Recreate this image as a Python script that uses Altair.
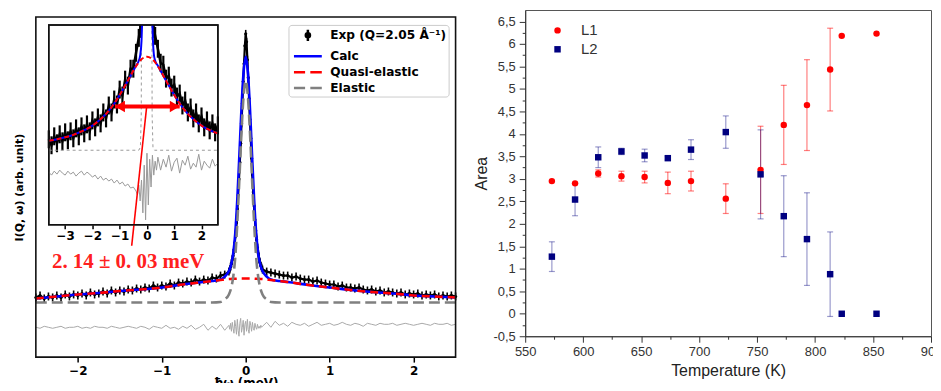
import altair as alt
import pandas as pd

# ============ LEFT PANEL: QENS spectrum (intensity in arbitrary units) ============
W_TAIL_L = [-2.5,-2.45,-2.4,-2.35,-2.3,-2.25,-2.2,-2.15,-2.1,-2.05,-2.0,-1.95,-1.9,-1.85,-1.8,-1.75,-1.7,-1.65,-1.6,-1.55,
            -1.5,-1.45,-1.4,-1.35,-1.3,-1.25,-1.2,-1.15,-1.1,-1.05,-1.0,-0.95,-0.9,-0.85,-0.8,-0.75,-0.7,-0.65,-0.6,-0.55,
            -0.5,-0.45,-0.4,-0.35,-0.3,-0.25]
W_CORE = [-0.2,-0.19,-0.18,-0.17,-0.16,-0.15,-0.14,-0.13,-0.12,-0.11,-0.1,-0.09,-0.08,-0.07,-0.06,-0.05,-0.04,-0.03,-0.02,-0.01,
          0.0,0.01,0.02,0.03,0.04,0.05,0.06,0.07,0.08,0.09,0.1,0.11,0.12,0.13,0.14,0.15,0.16,0.17,0.18,0.19,0.2]
W_TAIL_R = [0.25,0.3,0.35,0.4,0.45,0.5,0.55,0.6,0.65,0.7,0.75,0.8,0.85,0.9,0.95,1.0,1.05,1.1,1.15,1.2,
            1.25,1.3,1.35,1.4,1.45,1.5,1.55,1.6,1.65,1.7,1.75,1.8,1.85,1.9,1.95,2.0,2.05,2.1,2.15,2.2,
            2.25,2.3,2.35,2.4,2.45,2.5]

EXP_TAIL_L = [5,7,4,6,5,7,5,8,6,8,7,9,7,10,8,9,11,9,12,10,12,11,13,12,14,13,15,14,17,15,
              17,16,19,17,20,19,21,20,23,21,23,22,25,24,27,28]
EXP_CORE = [31,33,36,39,43,47,53,60,69,80,94,108,124,141,160,180,200,222,240,258,
            270,262,244,226,205,184,165,145,128,111,97,83,72,63,55,49,44,40,37,35,33]
EXP_TAIL_R = [31,30,29,28,27,27,25,26,24,23,23,21,22,20,19,18,18,16,17,15,
              15,14,15,13,12,13,11,12,10,11,10,9,10,8,9,8,9,7,8,7,8,6,7,6,7,6]
EXP_ERR = 4

RES_TAIL_L = [-25,-26,-24,-25,-26,-25,-24,-26,-25,-25,-24,-26,-25,-26,-24,-25,-25,-26,-24,-25,
              -26,-25,-24,-25,-26,-24,-25,-27,-24,-25,-26,-23,-26,-25,-27,-24,-26,-23,-27,-25,
              -22,-28,-24,-27,-22,-28]
RES_CORE = [-23,-27,-21,-29,-20,-26,-31,-18,-24,-32,-17,-28,-34,-21,-16,-30,-25,-18,-33,-22,
            -19,-29,-17,-27,-31,-19,-23,-29,-20,-26,-28,-21,-25,-27,-22,-26,-24,-26,-23,-25,-24]
RES_TAIL_R = [-20,-25,-19,-23,-21,-24,-20,-22,-23,-21,-24,-22,-20,-23,-22,-21,-23,-22,-20,-22,
              -23,-21,-22,-24,-21,-22,-23,-21,-22,-22,-21,-23,-22,-21,-22,-23,-22,-21,-22,-23,
              -21,-22,-22,-21,-23,-22]

W_MODEL = [-2.5,-2.25,-2.0,-1.75,-1.5,-1.25,-1.0,-0.75,-0.5,-0.4,-0.3,-0.25,-0.2,-0.175,-0.15,-0.125,-0.1,-0.075,-0.05,-0.025,
           0.0,0.025,0.05,0.075,0.1,0.125,0.15,0.175,0.2,0.25,0.3,0.4,0.5,0.75,1.0,1.25,1.5,1.75,2.0,2.25,2.5]
CALC = [4,6,8,9.5,11.5,13,15,18,20.5,21.5,23,26,31.5,37.5,48.5,69,104,149,196,232,
        247,232,196,149,104,69,48.5,37.5,31.5,26,23,21.5,20.5,17.5,15,12.5,10.5,9,7,6,5]
QUASI = [4,6,8,9.5,11.5,13,15,18,20.5,21.5,22.5,23,23.5,23.6,23.7,23.8,23.9,24,24,24,
         24,24,24,24,23.9,23.8,23.7,23.6,23.5,23,22.5,21.5,20.5,17.5,15,12.5,10.5,9,7,6,5]
ELASTIC = [0,0,0,0,0,0,0,0,0,0,0.5,3,8,14,25,45,80,125,172,208,
           223,208,172,125,80,45,25,14,8,3,0.5,0,0,0,0,0,0,0,0,0,0]

X_DOMAIN = [-2.5, 2.5]
Y_DOMAIN = [-55, 294]
FRAME_TOP = 287

LEG_NAMES = ["Exp (Q=2.05 Å⁻¹)", "Calc", "Quasi-elastic", "Elastic"]
LEG_COLORS = ["#000000", "#0000ff", "#ff0000", "#808080"]
LEG_PATHS = ["M0,-0.8L0,0.8M-0.3,0A0.3,0.3,0,1,0,0.3,0A0.3,0.3,0,1,0,-0.3,0",
             "M-2,0L2,0",
             "M-2,0L-0.4,0M0.35,0L2,0",
             "M-2,0L-0.4,0M0.35,0L2,0"]

# ---- inset (zoomed view) ----
WI_EXP = [-3.6,-3.5,-3.4,-3.3,-3.2,-3.1,-3.0,-2.9,-2.8,-2.7,-2.6,-2.5,-2.4,-2.3,-2.2,-2.1,-2.0,-1.9,-1.8,-1.7,
          -1.6,-1.5,-1.4,-1.3,-1.2,-1.1,-1.0,-0.9,-0.8,-0.7,-0.6,-0.5,-0.4,-0.3,-0.25,0.0,0.25,0.3,
          0.4,0.5,0.6,0.7,0.8,0.9,1.0,1.1,1.2,1.3,1.4,1.5,1.6,1.7,1.8,1.9,2.0,2.1,2.2,2.3,2.4,2.5,2.6]
VI_EXP = [86,80,89,82,91,84,93,85,94,87,97,89,99,92,101,94,105,98,108,102,
          113,107,120,113,126,121,136,130,146,140,157,157,173,188,197,None,197,190,
          177,163,161,147,150,138,141,129,132,120,125,113,118,107,113,102,109,98,105,95,102,93,100]
EXP_ERR_I = 9

WI_QUASI = [-3.6,-3.3,-3.0,-2.7,-2.4,-2.1,-1.8,-1.5,-1.2,-1.0,-0.8,-0.6,-0.4,-0.2,0.0,
            0.2,0.4,0.6,0.8,1.0,1.2,1.5,1.8,2.1,2.4,2.6]
VI_QUASI = [84.5,86,88,90.5,94,98,104,111.5,122,130.5,140,150,159.5,166.5,169,
            166.5,159.5,150,140,130.5,122,111.5,104,98,94,92]
WI_CALC = [-3.6,-3.3,-3.0,-2.7,-2.4,-2.1,-1.8,-1.5,-1.2,-1.0,-0.8,-0.6,-0.4,-0.3,-0.25,-0.2,-0.18,0.0,
           0.2,0.22,0.25,0.3,0.4,0.6,0.8,1.0,1.2,1.5,1.8,2.1,2.4,2.6]
VI_CALC = [84.5,86,88,90.5,94,98,104,111.5,122,130.5,140,150,160,165,170,185,201,None,
           201,185,172,165,160,150,140,130.5,122,111.5,104,98,94,92]
WI_EL = [-3.6,-0.3,-0.24,-0.21,-0.2,0.0,0.18,0.19,0.22,0.28,2.6]
VI_EL = [75,75,78,110,201,None,201,110,78,75,75]
WI_RES = [-3.6,-3.5,-3.4,-3.3,-3.2,-3.1,-3.0,-2.9,-2.8,-2.7,-2.6,-2.5,-2.4,-2.3,-2.2,-2.1,-2.0,-1.9,-1.8,-1.7,
          -1.6,-1.5,-1.4,-1.3,-1.2,-1.1,-1.0,-0.9,-0.8,-0.7,-0.6,-0.5,-0.4,
          -0.35,-0.3,-0.25,-0.2,-0.15,-0.1,-0.05,0.0,0.05,0.1,0.15,0.2,0.25,0.3,0.35,
          0.4,0.5,0.6,0.7,0.8,0.9,1.0,1.1,1.2,1.3,1.4,1.5,1.6,1.7,1.8,1.9,2.0,2.1,2.2,2.3,2.4,2.5,2.6]
VI_RES = [53,50,54,51,55,52,50,54,51,53,49,52,54,50,53,51,48,50,46,49,
          45,47,44,46,42,45,41,43,39,41,37,38,34,
          30,40,24,45,12,60,5,72,20,66,38,70,50,64,55,
          68,55,66,58,70,54,63,67,52,65,60,69,56,62,58,71,55,64,60,57,66,59,62]
XI_DOMAIN = [-3.6, 2.6]
YI_DOMAIN = [0, 201]
FWHM_ENDS = [-1.17, 1.2]
FWHM_LEVEL = 119
POINTER = [-0.01, 119, -0.56, -21]
LABEL_POS = [-0.69, -37]
LABEL_TEXT = "2. 14 ± 0. 03 meV"

# ============ RIGHT PANEL: areas vs temperature ============
T = [573,593,613,633,653,673,693,723,753,773,793,813,823,853]
L1 = [2.95,2.90,3.12,3.06,3.04,2.91,2.95,2.56,3.20,4.20,4.64,5.43,6.18,6.23]
L1_ERR = [0,0,0.08,0.11,0.13,0.24,0.22,0.33,0.97,0.88,1.01,0.92,0,0]
L2 = [1.27,2.54,3.48,3.61,3.52,3.46,3.65,4.04,3.10,2.17,1.66,0.88,0.0,0.0]
L2_ERR = [0.33,0.36,0.23,0.07,0.14,0.04,0.22,0.36,0.99,0.90,1.03,0.94,0,0]
XR_TICKS = [550,600,650,700,750,800,850,900]
XR_MINOR = [575,625,675,725,775,825,875]
YR_TICKS = [-0.5,0,0.5,1,1.5,2,2.5,3,3.5,4,4.5,5,5.5,6,6.5]
YR_MINOR = [-0.25,0.25,0.75,1.25,1.75,2.25,2.75,3.25,3.75,4.25,4.75,5.25,5.75,6.25]

# ---------------- build left panel ----------------
FONT = "DejaVu Sans"
SX = alt.Scale(domain=X_DOMAIN, nice=False, zero=False)
SY = alt.Scale(domain=Y_DOMAIN, nice=False, zero=False)
AX = alt.Axis(values=[-2, -1, 0, 1, 2], tickSize=5, tickWidth=1.5, tickColor="black", domain=False, grid=False,
              labelFont=FONT, labelFontSize=12, labelFontWeight="bold", labelColor="black", labelPadding=3,
              labelFlush=False, title="ħω (meV)", titleFont=FONT, titleFontSize=12, titleFontWeight="bold",
              titleColor="black", titlePadding=2)
AY = alt.Axis(labels=False, ticks=False, domain=False, grid=False, title="I(Q, ω) (arb. unit)",
              titleFont=FONT, titleFontSize=11, titleFontWeight="bold", titleColor="black", titlePadding=11,
              titleY=178)

def xm(f="w"):
    return alt.X(f + ":Q", scale=SX, axis=AX)

def ym(f="v"):
    return alt.Y(f + ":Q", scale=SY, axis=AY)

df_exp = pd.DataFrame({"w": W_TAIL_L + W_CORE + W_TAIL_R, "v": EXP_TAIL_L + EXP_CORE + EXP_TAIL_R})
df_exp["lo"] = df_exp["v"] - EXP_ERR
df_exp["hi"] = df_exp["v"] + EXP_ERR
df_res = pd.DataFrame({"w": W_TAIL_L + W_CORE + W_TAIL_R, "v": RES_TAIL_L + RES_CORE + RES_TAIL_R})
df_calc = pd.DataFrame({"w": W_MODEL, "v": CALC})
df_quasi = pd.DataFrame({"w": W_MODEL, "v": QUASI})
df_el = pd.DataFrame({"w": W_MODEL, "v": ELASTIC})
df_leg = pd.DataFrame({"leg": LEG_NAMES, "w": [X_DOMAIN[1] * 4] * 4, "v": [0] * 4})
df_frame = pd.DataFrame({"w": [X_DOMAIN[0]], "w2": [X_DOMAIN[1]], "v": [Y_DOMAIN[0]], "v2": [FRAME_TOP]})

LEG = alt.Legend(title=None, orient="none", legendX=254, legendY=15, fillColor="white", strokeColor="#cccccc",
                 cornerRadius=3, padding=2, symbolSize=196, symbolStrokeWidth=2.5, symbolOffset=9,
                 labelOffset=14, rowPadding=1.0, labelFont=FONT, labelFontWeight="bold", labelFontSize=12.2,
                 labelColor="black", labelLimit=300)

exp_rules = alt.Chart(df_exp).mark_rule(color="black", strokeWidth=1.6).encode(x=xm(), y=ym("lo"), y2="hi")
exp_line = alt.Chart(df_exp).mark_line(color="black", strokeWidth=2.2).encode(x=xm(), y=ym())
exp_pts = alt.Chart(df_exp).mark_circle(color="black", size=10, opacity=1).encode(x=xm(), y=ym())
calc = alt.Chart(df_calc).mark_line(color="#0000ff", strokeWidth=2.6, interpolate="monotone").encode(x=xm(), y=ym())
quasi = alt.Chart(df_quasi).mark_line(color="#ff0000", strokeWidth=2.6, strokeDash=[8, 5],
                                      interpolate="monotone").encode(x=xm(), y=ym())
elastic = alt.Chart(df_el).mark_line(color="#808080", strokeWidth=2.6, strokeDash=[11, 5],
                                     interpolate="monotone").encode(x=xm(), y=ym())
resid = alt.Chart(df_res).mark_line(color="#a8a8a8", strokeWidth=1).encode(x=xm(), y=ym())
leg_layer = alt.Chart(df_leg).mark_point(filled=False, size=196, strokeWidth=2.5, clip=True, opacity=1).encode(
    x=xm(), y=ym(),
    color=alt.Color("leg:N", scale=alt.Scale(domain=LEG_NAMES, range=LEG_COLORS), legend=LEG),
    shape=alt.Shape("leg:N", scale=alt.Scale(domain=LEG_NAMES, range=LEG_PATHS), legend=LEG))
frame = alt.Chart(df_frame).mark_rect(fill="transparent", stroke="#111111", strokeWidth=1.6).encode(
    x=xm(), x2="w2", y=ym(), y2="v2")

main = alt.layer(exp_rules, exp_line, exp_pts, calc, quasi, elastic, resid, leg_layer, frame)

# inset
SXI = alt.Scale(domain=XI_DOMAIN, range=[13, 183], nice=False, zero=False)
SYI = alt.Scale(domain=YI_DOMAIN, range=[216, 15], nice=False, zero=False)
AXI = alt.Axis(orient="bottom", offset=-133, values=[-3, -2, -1, 0, 1, 2], tickSize=4, tickWidth=1.5,
               tickColor="black", domain=False, grid=False, labelFont=FONT, labelFontSize=12,
               labelFontWeight="bold", labelColor="black", labelPadding=2, labelFlush=False, title=None)

def xi(f="wi"):
    return alt.X(f + ":Q", scale=SXI, axis=AXI)

def yi(f="vi"):
    return alt.Y(f + ":Q", scale=SYI, axis=None)

dfi_exp = pd.DataFrame({"wi": WI_EXP, "vi": VI_EXP})
dfi_err = dfi_exp.dropna().copy()
dfi_err["lo"] = dfi_err["vi"] - EXP_ERR_I
dfi_err["hi"] = (dfi_err["vi"] + EXP_ERR_I).clip(upper=YI_DOMAIN[1])
dfi_q = pd.DataFrame({"wi": WI_QUASI, "vi": VI_QUASI})
dfi_c = pd.DataFrame({"wi": WI_CALC, "vi": VI_CALC})
dfi_e = pd.DataFrame({"wi": WI_EL, "vi": VI_EL})
dfi_r = pd.DataFrame({"wi": WI_RES, "vi": VI_RES})
dfi_frame = pd.DataFrame({"wi": [XI_DOMAIN[0]], "wi2": [XI_DOMAIN[1]], "vi": [YI_DOMAIN[0]], "vi2": [YI_DOMAIN[1]]})
dfi_arrow = pd.DataFrame({"wi": [FWHM_ENDS[0]], "wi2": [FWHM_ENDS[1]], "vi": [FWHM_LEVEL]})
dfi_hl = pd.DataFrame({"wi": [FWHM_ENDS[0]], "vi": [FWHM_LEVEL]})
dfi_hr = pd.DataFrame({"wi": [FWHM_ENDS[1]], "vi": [FWHM_LEVEL]})
dfi_ptr = pd.DataFrame({"wi": [POINTER[0]], "vi": [POINTER[1]], "wi2": [POINTER[2]], "vi2": [POINTER[3]]})
dfi_lab = pd.DataFrame({"wi": [LABEL_POS[0]], "vi": [LABEL_POS[1]], "t": [LABEL_TEXT]})

i_frame = alt.Chart(dfi_frame).mark_rect(fill="white", stroke="#111111", strokeWidth=1.5).encode(
    x=xi(), x2="wi2", y=yi(), y2="vi2")
i_rules = alt.Chart(dfi_err).mark_rule(color="black", strokeWidth=2.2).encode(x=xi(), y=yi("lo"), y2="hi")
i_line = alt.Chart(dfi_exp).mark_line(color="black", strokeWidth=2.5).encode(x=xi(), y=yi())
i_el = alt.Chart(dfi_e).mark_line(color="#9a9a9a", strokeWidth=1, strokeDash=[3, 3]).encode(x=xi(), y=yi())
i_calc = alt.Chart(dfi_c).mark_line(color="#0000ff", strokeWidth=2, interpolate="monotone").encode(x=xi(), y=yi())
i_quasi = alt.Chart(dfi_q).mark_line(color="#ff0000", strokeWidth=2, strokeDash=[5, 3],
                                     interpolate="monotone").encode(x=xi(), y=yi())
i_res = alt.Chart(dfi_r).mark_line(color="#999999", strokeWidth=1).encode(x=xi(), y=yi())
i_arrow = alt.Chart(dfi_arrow).mark_rule(color="#ff0000", strokeWidth=4).encode(
    x=xi(), x2="wi2", y=yi())
i_hl = alt.Chart(dfi_hl).mark_point(shape="triangle-left", filled=True, size=130, color="#ff0000",
                                    opacity=1, xOffset=5).encode(x=xi(), y=yi())
i_hr = alt.Chart(dfi_hr).mark_point(shape="triangle-right", filled=True, size=130, color="#ff0000",
                                    opacity=1, xOffset=-5).encode(x=xi(), y=yi())
i_ptr = alt.Chart(dfi_ptr).mark_rule(color="#ff0000", strokeWidth=1.6).encode(
    x=xi(), y=yi(), x2="wi2", y2="vi2")
i_lab = alt.Chart(dfi_lab).mark_text(font="Liberation Serif", fontWeight="bold", fontSize=21, color="#ff2020",
                                     align="center", baseline="middle").encode(x=xi(), y=yi(), text="t:N")
i_frame2 = alt.Chart(dfi_frame).mark_rect(fill="transparent", stroke="#111111", strokeWidth=1.5).encode(
    x=xi(), x2="wi2", y=yi(), y2="vi2")

inset = alt.layer(i_frame, i_rules, i_line, i_el, i_calc, i_quasi, i_res, i_arrow, i_hl, i_hr, i_ptr, i_lab, i_frame2)

left = alt.layer(main, inset).resolve_scale(x="independent", y="independent").properties(
    width=422, height=349, view=alt.ViewBackground(stroke="transparent"))

# ---------------- build right panel ----------------
RFONT = "Liberation Sans"
SXR = alt.Scale(domain=[550, 900], nice=False, zero=False)
SYR = alt.Scale(domain=[-0.5, 6.755], nice=False, zero=False)
AXR = alt.Axis(values=XR_TICKS, tickSize=6, tickColor="#333333", domainColor="#333333", grid=False,
               labelFont=RFONT, labelFontSize=13, labelColor="#333333", labelPadding=3, labelFlush=False,
               title="Temperature (K)", titleFont=RFONT, titleFontSize=16, titleFontWeight="normal",
               titleColor="#222222", titlePadding=4)
AYR = alt.Axis(values=YR_TICKS, tickSize=6, tickColor="#333333", domainColor="#333333", grid=False,
               labelFont=RFONT, labelFontSize=13, labelColor="#333333", labelPadding=4,
               labelExpr="replace(toString(datum.value), '.', ',')",
               title="Area", titleFont=RFONT, titleFontSize=16, titleFontWeight="normal",
               titleColor="#222222", titlePadding=4)

rows = []
for t, a, e in zip(T, L1, L1_ERR):
    rows.append({"T": t, "series": "L1", "area": a, "err": e})
for t, a, e in zip(T, L2, L2_ERR):
    rows.append({"T": t, "series": "L2", "area": a, "err": e})
df_r = pd.DataFrame(rows)
df_r["lo"] = df_r["area"] - df_r["err"]
df_r["hi"] = df_r["area"] + df_r["err"]
df_e1 = df_r[(df_r.series == "L1") & (df_r.err > 0)]
df_e2 = df_r[(df_r.series == "L2") & (df_r.err > 0)]

def xr():
    return alt.X("T:Q", scale=SXR, axis=AXR)

def yr(f="area"):
    return alt.Y(f + ":Q", scale=SYR, axis=AYR)

def errbars(d, col, op):
    r = alt.Chart(d).mark_rule(color=col, opacity=op, strokeWidth=1.2).encode(x=xr(), y=yr("lo"), y2="hi")
    c1 = alt.Chart(d).mark_tick(color=col, opacity=op, orient="horizontal", size=6, thickness=1.2).encode(
        x=xr(), y=yr("lo"))
    c2 = alt.Chart(d).mark_tick(color=col, opacity=op, orient="horizontal", size=6, thickness=1.2).encode(
        x=xr(), y=yr("hi"))
    return [r, c1, c2]

RLEG = alt.Legend(title=None, orient="none", legendX=25, legendY=13, symbolSize=42, labelOffset=16,
                  rowPadding=3, labelFont=RFONT, labelFontSize=15, labelColor="#333333", padding=0)
pts = alt.Chart(df_r).mark_point(filled=True, size=42, opacity=1).encode(
    x=xr(), y=yr(),
    color=alt.Color("series:N", scale=alt.Scale(domain=["L1", "L2"], range=["#ff0000", "#000080"]), legend=RLEG),
    shape=alt.Shape("series:N", scale=alt.Scale(domain=["L1", "L2"], range=["circle", "square"]), legend=RLEG))

right_main = alt.layer(*(errbars(df_e1, "#ff0000", 0.5) + errbars(df_e2, "#000080", 0.4)), pts)

df_minor = pd.DataFrame({"T": T, "area": L1})
minor = alt.Chart(df_minor).mark_point(opacity=0).encode(
    x=alt.X("T:Q", scale=SXR, axis=alt.Axis(orient="bottom", values=XR_MINOR, labels=False, tickSize=3,
                                             tickColor="#333333", domain=False, grid=False, title=None)),
    y=alt.Y("area:Q", scale=SYR, axis=alt.Axis(orient="left", values=YR_MINOR, labels=False, tickSize=3,
                                                tickColor="#333333", domain=False, grid=False, title=None)))

right = alt.layer(right_main, minor).resolve_scale(x="independent", y="independent").properties(
    width=408, height=328, view=alt.ViewBackground(stroke="#555555"))

# negative right/bottom padding crops the overflowing edge, as in the reference picture
chart = alt.hconcat(left, right, spacing=11).resolve_scale(color="independent", shape="independent").properties(
    padding={"left": 5, "top": 0, "right": -10, "bottom": -8}).configure(background="white")

chart.save("out.html", embed_options={"renderer": "svg", "actions": False})
